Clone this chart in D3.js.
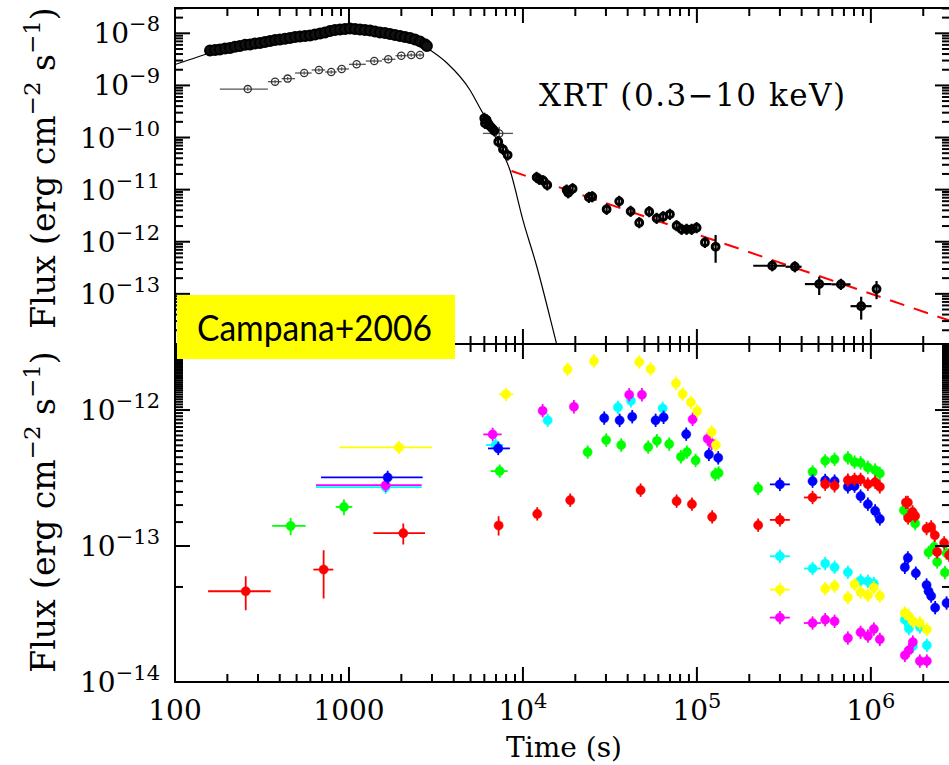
<!DOCTYPE html>
<html>
<head>
<meta charset="utf-8">
<script src="https://cdn.jsdelivr.net/npm/d3@7"></script>
<style>
  body { margin: 0; background: #fff; }
  svg { display: block; }
</style>
</head>
<body>
<script>
const width = 949;
const height = 765;
const plotLeft = 175, plotRight = 950;
const topY0 = 8, midY = 344, botY1 = 682;

// ---- upper panel: XRT (0.3-10 keV) ----
// dense early light curve (black circles)
const bandT = [159,170,181,194,207,221,236,253,270,288,308,329,352,376,401,429,458,490,523,559,
  597,638,682,728,778,831,888,949,1013,1083,1157,1236,1321,1411,1508,1611,1721,1839,1965,2099,
  2243,2396,2559,2735,2806];
const bandF = [4.7e-9,4.8e-9,4.9e-9,5.1e-9,5.2e-9,5.5e-9,5.7e-9,6.0e-9,6.1e-9,6.4e-9,6.5e-9,6.8e-9,
  7.1e-9,7.4e-9,7.6e-9,7.9e-9,8.1e-9,8.5e-9,8.7e-9,8.9e-9,9.1e-9,9.5e-9,9.9e-9,1.04e-8,1.11e-8,
  1.16e-8,1.18e-8,1.21e-8,1.235e-8,1.21e-8,1.18e-8,1.16e-8,1.13e-8,1.08e-8,1.04e-8,1.01e-8,9.7e-9,
  9.3e-9,8.9e-9,8.5e-9,8.1e-9,7.6e-9,7.0e-9,6.2e-9,5.7e-9];

// grey binned points [t, flux, tLo, tHi, fLo, fHi]
const greyPts = [
  [262, 8.5e-10, 181, 342], [376, 1.18e-9, 342, 410], [444, 1.35e-9, 410, 490],
  [553, 1.73e-9, 490, 610], [672, 1.98e-9, 610, 730], [791, 1.81e-9, 730, 850],
  [908, 2.07e-9, 850, 1000], [1107, 2.54e-9, 1000, 1250], [1398, 2.94e-9, 1250, 1550],
  [1682, 3.17e-9, 1550, 1850], [1998, 3.72e-9, 1850, 2150], [2280, 3.83e-9, 2150, 2420],
  [2559, 3.83e-9, 2420, 2700], [7306, 1.2e-10, 5888, 8760, 9.6e-11, 1.61e-10]
];

// late XRT points [t, flux, tLo, tHi, fLo, fHi]
const xrtPts = [
  [5993, 2.34e-10], [6185, 2.17e-10], [6048, 1.87e-10], [6319, 1.87e-10], [6462, 1.66e-10],
  [6662, 1.50e-10], [6841, 1.35e-10], [7211, 8.3e-11], [7677, 5.94e-11], [8167, 4.61e-11],
  [11988, 1.72e-11], [12410, 1.58e-11], [13085, 1.48e-11], [13796, 1.23e-11],
  [17830, 9.8e-12], [18210, 8.7e-12], [19300, 1.04e-11], [23950, 7.1e-12], [25020, 7.3e-12],
  [30270, 4.19e-12], [35760, 5.96e-12], [41590, 3.83e-12], [46600, 2.32e-12], [53200, 3.77e-12],
  [58680, 2.81e-12], [64020, 3.02e-12], [69960, 3.36e-12], [76440, 2.03e-12], [81660, 1.73e-12],
  [87260, 1.73e-12], [93230, 1.73e-12], [99600, 1.86e-12], [111200, 9.7e-13],
  [128100, 8.0e-13, null, null, 3.95e-13, 1.35e-12],
  [270900, 3.46e-13, 210700, 323400],
  [365700, 3.31e-13, 323400, 399700],
  [504700, 1.54e-13, 417600, 594500, 9.5e-14, 2.13e-13],
  [672300, 1.52e-13, 594500, 764200],
  [879700, 5.8e-14, 764200, 1009000, 3.2e-14, 8.8e-14],
  [1078000, 1.24e-13, null, null, 7.9e-14, 1.76e-13]
];

// model curve (black) and late power law (red dashed)
const modelT = [100, 122, 159, 270, 523, 1000, 1965, 2806, 3658, 4960, 5661, 6462, 7378, 8420,
  10000, 12036, 14296, 15684];
const modelF = [2.52e-9, 3.14e-9, 4.19e-9, 6.1e-9, 8.7e-9, 1.235e-8, 9.3e-9, 5.22e-9, 2.69e-9,
  8.17e-10, 3.68e-10, 1.66e-10, 6.58e-11, 2.38e-11, 2.6e-12, 3.27e-13, 3.55e-14, 1.03e-14];
const plawT = [8600, 3.0e6];
const plawF = [2.28e-11, 2.87e-14];

// ---- lower panel: UVOT filters [t, flux, tLo, tHi, fLo, fHi] ----
const redPts = [
  [255, 4.65e-14, 155, 355, 3.37e-14, 5.99e-14], [715, 6.71e-14, 624, 813, 4.11e-14, 9.31e-14],
  [2052, 1.243e-13, 1380, 2735, 1.026e-13, 1.464e-13], [7249, 1.416e-13, null, null, 1.195e-13, 1.657e-13],
  [12085, 1.723e-13], [18700, 2.174e-13], [47470, 2.576e-13], [76440, 2.138e-13], [93610, 2.032e-13],
  [122400, 1.638e-13], [225000, 1.423e-13], [299900, 1.557e-13, 262800, 342300],
  [462300, 2.275e-13, 412000, 516000], [546300, 2.85e-13], [618500, 2.77e-13], [737700, 3.05e-13],
  [806000, 3.09e-13], [872700, 3.09e-13], [961100, 2.85e-13], [1058000, 2.95e-13], [1126000, 2.725e-13],
  [1589000, 2.09e-13], [1631000, 2.09e-13], [1638000, 1.61e-13], [1736000, 1.782e-13],
  [1797000, 1.665e-13], [2090000, 1.345e-13], [2221000, 1.382e-13], [2332000, 1.20e-13],
  [2404000, 9.05e-14], [2638000, 1.054e-13], [2818000, 8.56e-14]
];
const greenPts = [
  [462, 1.406e-13, 362, 564, 1.20e-13, 1.61e-13], [936, 1.94e-13, 839, 1045, 1.685e-13, 2.20e-13],
  [7347, 3.555e-13, 6523, 8167], [23540, 4.905e-13], [30110, 6.01e-13], [36730, 5.53e-13],
  [52500, 5.34e-13], [58910, 5.94e-13], [69310, 5.62e-13], [80910, 4.53e-13], [87600, 4.905e-13],
  [98290, 4.26e-13], [127400, 3.36e-13], [133300, 3.45e-13], [225000, 2.65e-13], [462300, 3.51e-13],
  [546300, 4.23e-13], [618500, 4.34e-13], [737700, 4.45e-13], [806000, 4.14e-13], [872700, 4.09e-13],
  [961100, 3.785e-13], [1058000, 3.62e-13], [1126000, 3.42e-13], [1548000, 1.835e-13],
  [1797000, 1.464e-13], [2146000, 8.96e-14], [2311000, 9.85e-14], [2404000, 7.64e-14],
  [2663000, 6.38e-14], [2723000, 8.85e-14]
];
const bluePts = [
  [1669, 3.194e-13, 691, 2652], [7211, 5.22e-13, 6294, 8420], [29330, 8.73e-13], [35960, 8.40e-13],
  [42490, 8.93e-13], [57900, 8.40e-13], [64360, 8.84e-13], [86800, 6.65e-13], [117200, 4.72e-13],
  [132600, 4.45e-13], [299900, 2.84e-13, 262800, 342300], [462300, 3.00e-13], [546300, 3.035e-13],
  [618500, 3.00e-13], [737700, 2.725e-13], [806000, 2.76e-13], [872700, 2.326e-13], [961100, 2.032e-13],
  [1058000, 1.813e-13], [1126000, 1.583e-13], [1568000, 6.98e-14], [1631000, 8.17e-14],
  [1813000, 6.31e-14], [2090000, 5.17e-14], [2146000, 4.65e-14], [2221000, 4.29e-14],
  [2342000, 3.52e-14], [2723000, 3.81e-14]
];
const cyanPts = [
  [1625, 2.71e-13, 646, 2617], [6968, 5.53e-13, 6128, 7706], [13870, 8.40e-13], [35160, 1.047e-12],
  [41760, 1.171e-12], [63520, 1.029e-12], [299900, 8.41e-14, 262800, 342300],
  [462300, 6.83e-14, 412000, 516000], [546300, 7.43e-14], [618500, 6.98e-14], [737700, 6.41e-14],
  [872700, 5.57e-14], [961100, 5.50e-14], [1040000, 5.30e-14], [1568000, 2.875e-14],
  [1653000, 2.47e-14], [1743000, 1.83e-14], [1912000, 2.54e-14], [2098000, 1.86e-14]
];
const yellowPts = [
  [1938, 5.31e-13, 880, 3011], [7985, 1.305e-12, 7278, 8797], [18065, 1.995e-12], [25590, 2.295e-12],
  [46600, 2.257e-12], [54190, 2.004e-12], [75740, 1.572e-12], [82760, 1.312e-12], [92370, 1.139e-12],
  [100400, 9.83e-13], [121500, 6.89e-13], [128600, 5.53e-13], [299900, 4.78e-14, 262800, 342300],
  [546300, 4.86e-14], [618500, 5.08e-14], [737700, 4.175e-14], [806000, 5.23e-14], [872700, 4.57e-14],
  [961100, 4.34e-14], [1040000, 4.95e-14], [1126000, 4.29e-14], [1568000, 3.22e-14],
  [1653000, 3.04e-14], [1743000, 2.795e-14], [1912000, 2.715e-14], [2098000, 2.43e-14]
];
const magentaPts = [
  [1625, 2.80e-13, 646, 2617], [6697, 6.62e-13, 5912, 7545], [12980, 9.88e-13], [19640, 1.057e-12],
  [40820, 1.296e-12], [48300, 1.296e-12], [94480, 8.54e-13], [115200, 6.15e-13], [121500, 5.69e-13],
  [299900, 2.975e-14, 262800, 342300], [462300, 2.715e-14, 412000, 516000], [546300, 2.875e-14],
  [618500, 2.795e-14], [737700, 2.105e-14], [872700, 2.318e-14], [961100, 2.178e-14],
  [1040000, 2.452e-14], [1126000, 2.059e-14], [1568000, 1.57e-14], [1653000, 1.709e-14],
  [1743000, 1.966e-14], [1912000, 1.425e-14], [2098000, 1.425e-14]
];

const lowerSeries = [
  { pts: cyanPts, color: '#00ffff' },
  { pts: magentaPts, color: '#ff00ff' },
  { pts: yellowPts, color: '#ffff00' },
  { pts: greenPts, color: '#00ff00' },
  { pts: bluePts, color: '#0000ff' },
  { pts: redPts, color: '#ff0000' }
];

const xTickLabels = [[100, '100'], [1000, '1000'], [1e4, '10', '4'], [1e5, '10', '5'], [1e6, '10', '6']];
const upperTickLabels = [[1e-8, '−8'], [1e-9, '−9'], [1e-10, '−10'], [1e-11, '−11'], [1e-12, '−12'], [1e-13, '−13']];
const lowerTickLabels = [[1e-12, '−12'], [1e-13, '−13'], [1e-14, '−14']];

// ---- scales ----
const xScale = d3.scaleLog().domain([100, 2.85e6]).range([plotLeft, plotRight]);
const yUp = d3.scaleLog().domain([1.09e-14, 3.06e-8]).range([midY, topY0]);
const yLow = d3.scaleLog().domain([1e-14, 3.06e-12]).range([botY1, midY]);

const svg = d3.select('body').append('svg')
  .attr('width', width).attr('height', height);

const serif = 'DejaVu Serif';

const defs = svg.append('defs');
defs.append('clipPath').attr('id', 'clipUp').append('rect')
  .attr('x', plotLeft).attr('y', topY0).attr('width', plotRight - plotLeft).attr('height', midY - topY0);
defs.append('clipPath').attr('id', 'clipLow').append('rect')
  .attr('x', plotLeft).attr('y', midY).attr('width', plotRight - plotLeft).attr('height', botY1 - midY);

function isDecade(v) {
  const l = Math.log10(v);
  return Math.abs(l - Math.round(l)) < 1e-6;
}

function drawFrame(yScale, y0, y1) {
  const g = svg.append('g').attr('stroke', '#000').attr('fill', 'none');
  g.append('rect').attr('x', plotLeft).attr('y', y0)
    .attr('width', plotRight - plotLeft).attr('height', y1 - y0)
    .attr('stroke-width', 2);
  xScale.ticks(40).forEach(function(v) {
    const len = isDecade(v) ? 15 : 8;
    const x = xScale(v);
    g.append('line').attr('x1', x).attr('x2', x).attr('y1', y0).attr('y2', y0 + len).attr('stroke-width', 2);
    g.append('line').attr('x1', x).attr('x2', x).attr('y1', y1).attr('y2', y1 - len).attr('stroke-width', 2);
  });
  yScale.ticks(60).forEach(function(v) {
    const len = isDecade(v) ? 15 : 8;
    const y = yScale(v);
    if (y < y0 - 0.5 || y > y1 + 0.5) return;
    g.append('line').attr('x1', plotLeft).attr('x2', plotLeft + len).attr('y1', y).attr('y2', y).attr('stroke-width', 2);
    g.append('line').attr('x1', plotRight).attr('x2', plotRight - len).attr('y1', y).attr('y2', y).attr('stroke-width', 2);
  });
}

function yLabels(yScale, labels) {
  labels.forEach(function(d) {
    const t = svg.append('text')
      .attr('x', 160).attr('y', yScale(d[0]) + 10)
      .attr('text-anchor', 'end')
      .attr('font-family', serif).attr('font-size', 28).attr('fill', '#000');
    t.append('tspan').text('10');
    t.append('tspan').attr('dy', -12).attr('font-size', 21).text(d[1]);
  });
}

function axisTitle(cy) {
  const t = svg.append('text')
    .attr('transform', 'translate(55,' + cy + ') rotate(-90)')
    .attr('text-anchor', 'middle')
    .attr('font-family', serif).attr('font-size', 33).attr('fill', '#000');
  t.append('tspan').text('Flux (erg cm');
  t.append('tspan').attr('dy', -15).attr('font-size', 23).text('−2');
  t.append('tspan').attr('dy', 15).text(' s');
  t.append('tspan').attr('dy', -15).attr('font-size', 23).text('−1');
  t.append('tspan').attr('dy', 15).text(')');
}

function drawPoints(g, pts, yScale, o) {
  pts.forEach(function(p) {
    const x = xScale(p[0]), y = yScale(p[1]);
    const flo = p[4] != null ? p[4] : p[1] / o.err;
    const fhi = p[5] != null ? p[5] : p[1] * o.err;
    g.append('line').attr('x1', x).attr('x2', x)
      .attr('y1', yScale(flo)).attr('y2', yScale(fhi))
      .attr('stroke', o.bar).attr('stroke-width', o.barW);
    if (p[2] != null) {
      g.append('line').attr('x1', xScale(p[2])).attr('x2', xScale(p[3]))
        .attr('y1', y).attr('y2', y)
        .attr('stroke', o.bar).attr('stroke-width', o.barW);
    }
    g.append('circle').attr('cx', x).attr('cy', y).attr('r', o.r)
      .attr('fill', o.fill).attr('stroke', o.stroke).attr('stroke-width', o.sw);
  });
}

// ---- upper panel ----
const gUp = svg.append('g').attr('clip-path', 'url(#clipUp)');

gUp.append('path')
  .datum(d3.zip(modelT, modelF))
  .attr('d', d3.line().x(function(d) { return xScale(d[0]); })
    .y(function(d) { return yUp(d[1]); }).curve(d3.curveMonotoneX))
  .attr('fill', 'none').attr('stroke', '#000').attr('stroke-width', 1.2);

gUp.append('path')
  .datum(d3.zip(plawT, plawF))
  .attr('d', d3.line().x(function(d) { return xScale(d[0]); }).y(function(d) { return yUp(d[1]); }))
  .attr('fill', 'none').attr('stroke', '#ff0000').attr('stroke-width', 2)
  .attr('stroke-dasharray', '15,10');

drawPoints(gUp, greyPts, yUp, { err: 1.08, bar: '#555', barW: 1.3, r: 3.6, fill: 'none', stroke: '#333', sw: 1.3 });
drawPoints(gUp, d3.zip(bandT, bandF), yUp, { err: 1.24, bar: '#000', barW: 2.5, r: 5, fill: '#111', stroke: '#000', sw: 2 });
drawPoints(gUp, xrtPts, yUp, { err: 1.28, bar: '#000', barW: 2.2, r: 3.4, fill: 'none', stroke: '#000', sw: 3 });

drawFrame(yUp, topY0, midY);
yLabels(yUp, upperTickLabels);
axisTitle(168);

svg.append('text')
  .attr('x', 539).attr('y', 106)
  .attr('font-family', serif).attr('font-size', 31)
  .attr('textLength', 306).attr('lengthAdjust', 'spacing')
  .attr('fill', '#000')
  .text('XRT (0.3−10 keV)');

// ---- lower panel ----
const gLow = svg.append('g').attr('clip-path', 'url(#clipLow)');
lowerSeries.forEach(function(s) {
  drawPoints(gLow, s.pts, yLow, { err: 1.12, bar: s.color, barW: 1.8, r: 4.6, fill: s.color, stroke: s.color, sw: 0.5 });
});

drawFrame(yLow, midY, botY1);
yLabels(yLow, lowerTickLabels);
axisTitle(512);

// x tick labels
xTickLabels.forEach(function(d) {
  const t = svg.append('text')
    .attr('x', xScale(d[0])).attr('y', 720)
    .attr('text-anchor', 'middle')
    .attr('font-family', serif).attr('font-size', 28).attr('fill', '#000');
  t.append('tspan').text(d[1]);
  if (d[2]) t.append('tspan').attr('dy', -12).attr('font-size', 21).text(d[2]);
});

svg.append('text')
  .attr('x', 564).attr('y', 757)
  .attr('text-anchor', 'middle')
  .attr('font-family', serif).attr('font-size', 28).attr('fill', '#000')
  .text('Time (s)');

// label box
svg.append('rect')
  .attr('x', 177).attr('y', 295).attr('width', 278).attr('height', 64)
  .attr('fill', '#ffff00');
svg.append('text')
  .attr('x', 197).attr('y', 341)
  .attr('font-family', 'Lato').attr('font-size', 36)
  .attr('textLength', 235).attr('lengthAdjust', 'spacingAndGlyphs')
  .attr('fill', '#000')
  .text('Campana+2006');
</script>
</body>
</html>
